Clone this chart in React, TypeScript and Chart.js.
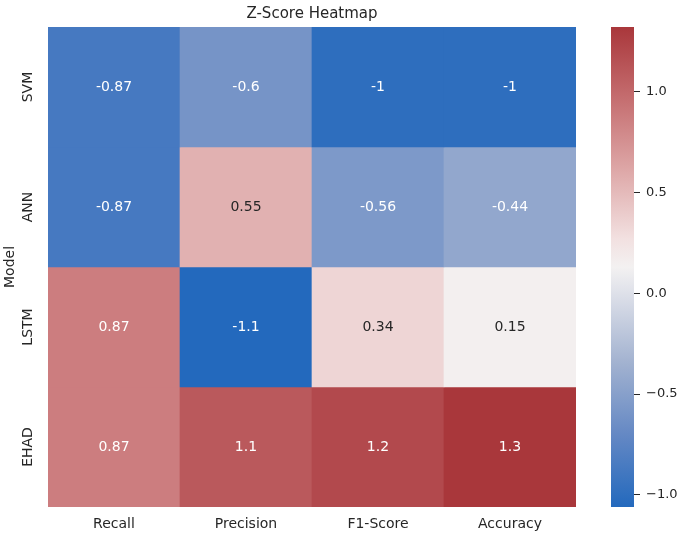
import React, { useEffect, useRef } from "react";
import { Chart, registerables } from "chart.js";

Chart.register(...registerables);

const models = ["SVM", "ANN", "LSTM", "EHAD"];
const metrics = ["Recall", "Precision", "F1-Score", "Accuracy"];
const recall = [-0.87, -0.87, 0.87, 0.87];
const precision = [-0.6, 0.55, -1.06, 1.1];
const f1Score = [-1.0, -0.56, 0.34, 1.2];
const accuracy = [-1.0, -0.44, 0.15, 1.32];
const colorbarTicks = [-1, -0.5, 0, 0.5, 1];

const columns = [recall, precision, f1Score, accuracy];
const allValues = columns.flat();
const vmin = Math.min(...allValues);
const vmax = Math.max(...allValues);

const FONT = "'DejaVu Sans', sans-serif";
const TEXT = "#262626";

// approx seaborn "vlag"
const stops: [number, number[]][] = [
  [0.0, [35, 105, 189]],
  [0.15, [100, 136, 196]],
  [0.3, [162, 178, 208]],
  [0.45, [224, 226, 234]],
  [0.5, [243, 241, 241]],
  [0.56, [242, 224, 224]],
  [0.7, [222, 168, 168]],
  [0.85, [197, 110, 112]],
  [1.0, [169, 55, 59]],
];

function lut(t: number): number[] {
  t = Math.max(0, Math.min(1, t));
  for (let i = 1; i < stops.length; i++) {
    if (t <= stops[i][0]) {
      const [t0, c0] = stops[i - 1];
      const [t1, c1] = stops[i];
      const f = (t - t0) / (t1 - t0);
      return c0.map((v, k) => Math.round(v + (c1[k] - v) * f));
    }
  }
  return stops[stops.length - 1][1];
}
const rgb = (c: number[]) => `rgb(${c[0]},${c[1]},${c[2]})`;
const colorFor = (v: number) => lut((v - vmin) / (vmax - vmin));

function luminance(c: number[]) {
  const l = c.map((x) => {
    const s = x / 255;
    return s <= 0.03928 ? s / 12.92 : Math.pow((s + 0.055) / 1.055, 2.4);
  });
  return 0.2126 * l[0] + 0.7152 * l[1] + 0.0722 * l[2];
}
const fmt = (v: number) => String(parseFloat(v.toPrecision(2)));

export default function App() {
  const mainRef = useRef<HTMLCanvasElement>(null);
  const barRef = useRef<HTMLCanvasElement>(null);

  useEffect(() => {
    const annotate = {
      id: "annotate",
      afterDatasetsDraw(chart: any) {
        const ctx = chart.ctx;
        ctx.save();
        ctx.font = `14px ${FONT}`;
        ctx.textAlign = "center";
        ctx.textBaseline = "middle";
        chart.data.datasets.forEach((ds: any, r: number) => {
          const meta = chart.getDatasetMeta(r);
          meta.data.forEach((el: any, c: number) => {
            const v = columns[c][r];
            const col = colorFor(v);
            ctx.fillStyle = luminance(col) > 0.408 ? TEXT : "#ffffff";
            ctx.fillText(fmt(v), el.x, (el.y + el.base) / 2);
          });
        });
        // y tick labels (rotated)
        const ys = chart.scales.y;
        ctx.fillStyle = TEXT;
        ctx.font = `14px ${FONT}`;
        models.forEach((m, i) => {
          ctx.save();
          ctx.translate(28, ys.getPixelForValue(i + 0.5));
          ctx.rotate(-Math.PI / 2);
          ctx.fillText(m, 0, 0);
          ctx.restore();
        });
        // title
        ctx.font = `15px ${FONT}`;
        ctx.fillText("Z-Score Heatmap", (chart.chartArea.left + chart.chartArea.right) / 2, 14);
        ctx.restore();
      },
    };

    const main = new Chart(mainRef.current!, {
      type: "bar",
      data: {
        labels: metrics,
        datasets: models.map((m, r) => ({
          label: m,
          data: metrics.map(() => [r, r + 1]) as any,
          backgroundColor: metrics.map((_, c) => rgb(colorFor(columns[c][r]))),
          borderWidth: 0,
          barPercentage: 1,
          categoryPercentage: 1,
        })),
      },
      options: {
        animation: false,
        responsive: false,
        devicePixelRatio: 1,
        layout: { padding: { top: 27, right: 24, left: 0, bottom: 0 } },
        plugins: { legend: { display: false }, tooltip: { enabled: false }, title: { display: false } },
        scales: {
          x: {
            stacked: true,
            grid: { display: false },
            border: { display: false },
            ticks: { color: TEXT, font: { family: FONT, size: 14 }, padding: 1 },
            afterFit: (s: any) => { s.height = 32; },
          },
          y: {
            type: "linear",
            min: 0,
            max: 4,
            reverse: true,
            grid: { display: false },
            border: { display: false },
            ticks: { display: false },
            title: { display: true, text: "Model", color: TEXT, font: { family: FONT, size: 14 }, padding: { top: 2, bottom: 0 } },
            afterFit: (s: any) => { s.width = 48; },
          },
        },
      },
      plugins: [annotate],
    });

    const cbar = new Chart(barRef.current!, {
      type: "bar",
      data: {
        labels: [""],
        datasets: [
          {
            data: [[vmin, vmax]] as any,
            barPercentage: 1,
            categoryPercentage: 1,
            borderWidth: 0,
            backgroundColor: (ctx: any) => {
              const chart = ctx.chart;
              if (!chart.chartArea) return "#ccc";
              const ys = chart.scales.y;
              const g = chart.ctx.createLinearGradient(0, ys.getPixelForValue(vmin), 0, ys.getPixelForValue(vmax));
              stops.forEach(([t, c]) => g.addColorStop(t, rgb(c)));
              return g;
            },
          },
        ],
      },
      options: {
        animation: false,
        responsive: false,
        devicePixelRatio: 1,
        layout: { padding: { top: 27, bottom: 32, left: 11, right: 0 } },
        plugins: { legend: { display: false }, tooltip: { enabled: false } },
        scales: {
          x: { display: false },
          y: {
            position: "right",
            min: vmin,
            max: vmax,
            grid: { drawOnChartArea: false, drawTicks: true, tickLength: 6, color: TEXT, lineWidth: 1 },
            border: { display: false },
            afterBuildTicks: (s: any) => { s.ticks = colorbarTicks.map((v) => ({ value: v })); },
            ticks: {
              color: TEXT,
              font: { family: FONT, size: 13 },
              padding: 6,
              callback: (v: any) => (Number(v) < 0 ? "\u2212" : "") + Math.abs(Number(v)).toFixed(1),
            },
            afterFit: (s: any) => { s.width = 51; },
          },
        },
      },
    });

    return () => {
      main.destroy();
      cbar.destroy();
    };
  }, []);

  return (
    <div style={{ position: "fixed", left: 0, top: 0, width: 685, height: 539, background: "#fff" }}>
      <canvas ref={mainRef} width={600} height={539} style={{ position: "absolute", left: 0, top: 0, width: 600, height: 539 }} />
      <canvas ref={barRef} width={85} height={539} style={{ position: "absolute", left: 600, top: 0, width: 85, height: 539 }} />
    </div>
  );
}
